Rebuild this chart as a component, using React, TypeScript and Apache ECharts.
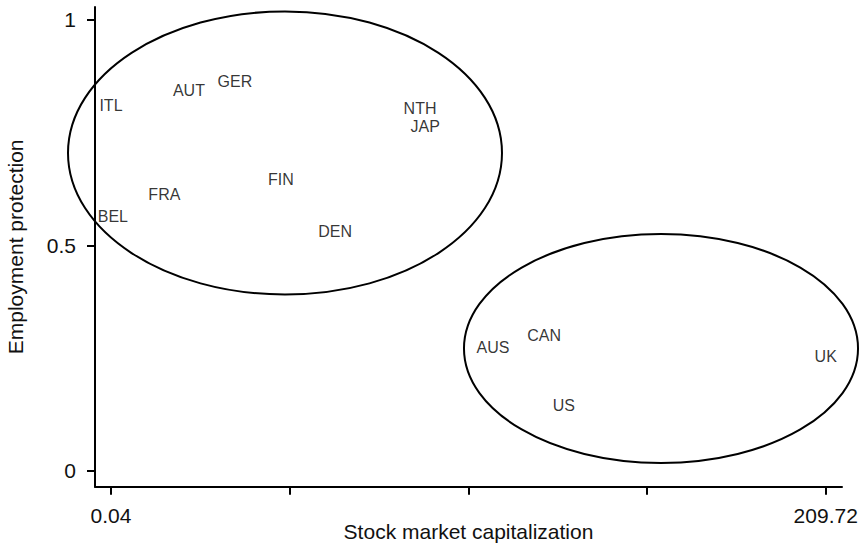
import React, { useEffect, useRef } from "react";
import * as echarts from "echarts";

const countries = ["ITL", "AUT", "GER", "NTH", "JAP", "FRA", "FIN", "BEL", "DEN", "AUS", "CAN", "UK", "US"];
const stockCap = [0.04, 22.9, 36.4, 90.7, 92.2, 15.7, 49.9, 0.6, 65.8, 112.1, 127.1, 209.72, 132.9];
const employmentProtection = [0.811, 0.843, 0.863, 0.803, 0.763, 0.612, 0.645, 0.565, 0.53, 0.274, 0.299, 0.254, 0.1436];

const xTickValues = [0.04, 52.46, 104.88, 157.3, 209.72];
const xLabelValues = [0.04, 209.72];
const xLabelTexts = ["0.04", "209.72"];
const yTickValues = [0, 0.5, 1];
const yLabelTexts = ["0", "0.5", "1"];

// ellipses: [centerX, centerY, radiusX, radiusY] in data units
const clusterEllipses = [
  [51.09, 0.7049, 63.66, 0.314],
  [161.4, 0.2711, 57.8, 0.254],
];

const FONT = "'Liberation Sans', Arial, Helvetica, sans-serif";
const INK = "#111111";

function nearestLabel(v: number, vals: number[], texts: string[]) {
  let best = 0;
  for (let i = 1; i < vals.length; i++) {
    if (Math.abs(vals[i] - v) < Math.abs(vals[best] - v)) best = i;
  }
  return Math.abs(vals[best] - v) < 1e-6 * Math.max(1, Math.abs(v)) + 1e-9 ? texts[best] : "";
}

export default function App() {
  const ref = useRef<HTMLDivElement>(null);
  useEffect(() => {
    if (!ref.current) return;
    const chart = echarts.init(ref.current, undefined, { renderer: "svg" });
    const points = countries.map((c, i) => ({ name: c, value: [stockCap[i], employmentProtection[i]] }));
    chart.setOption({
      animation: false,
      backgroundColor: "#ffffff",
      grid: { left: 95, right: 18, top: 7, bottom: 59.3, containLabel: false, outerBoundsMode: "none" },
      xAxis: {
        type: "value",
        min: -4.65,
        max: 214.5,
        name: "Stock market capitalization",
        nameLocation: "middle",
        nameGap: 34,
        nameMoveOverlap: false,
        nameTextStyle: { fontSize: 21, color: INK, fontFamily: FONT },
        axisLine: { show: true, onZero: false, lineStyle: { color: "#000", width: 2 } },
        axisTick: { show: true, length: 8, lineStyle: { color: "#000", width: 2 }, customValues: xTickValues },
        axisLabel: {
          customValues: xLabelValues,
          fontSize: 21,
          color: INK,
          fontFamily: FONT,
          margin: 18,
          formatter: (v: number) => nearestLabel(v, xLabelValues, xLabelTexts),
        },
        splitLine: { show: false },
      },
      yAxis: {
        type: "value",
        min: -0.0355,
        max: 1.0288,
        name: "Employment protection",
        nameLocation: "middle",
        nameGap: 69,
        nameMoveOverlap: false,
        nameTextStyle: { fontSize: 21, color: INK, fontFamily: FONT },
        axisLine: { show: true, onZero: false, lineStyle: { color: "#000", width: 2 } },
        axisTick: { show: true, length: 8, lineStyle: { color: "#000", width: 2 }, customValues: yTickValues },
        axisLabel: {
          customValues: yTickValues,
          fontSize: 21,
          color: INK,
          fontFamily: FONT,
          margin: 19,
          formatter: (v: number) => nearestLabel(v, yTickValues, yLabelTexts),
        },
        splitLine: { show: false },
      },
      series: [
        {
          type: "custom",
          silent: true,
          clip: false,
          data: clusterEllipses,
          renderItem: (params: any, api: any) => {
            const c = api.coord([api.value(0), api.value(1)]);
            const s = api.size([api.value(2), api.value(3)]);
            return {
              type: "ellipse",
              shape: { cx: c[0], cy: c[1], rx: s[0], ry: s[1] },
              style: { fill: "none", stroke: "#000", lineWidth: 2 },
            };
          },
          z: 1,
        },
        {
          type: "scatter",
          data: points,
          symbolSize: 1,
          itemStyle: { color: "rgba(0,0,0,0)" },
          label: {
            show: true,
            position: "inside",
            formatter: (p: any) => p.name,
            fontSize: 16,
            color: "#000",
            fontFamily: FONT,
          },
          z: 2,
        },
      ],
    });
    return () => chart.dispose();
  }, []);
  return (
    <div
      ref={ref}
      style={{ position: "absolute", left: 0, top: 0, width: 860, height: 546, background: "#fff" }}
    />
  );
}
